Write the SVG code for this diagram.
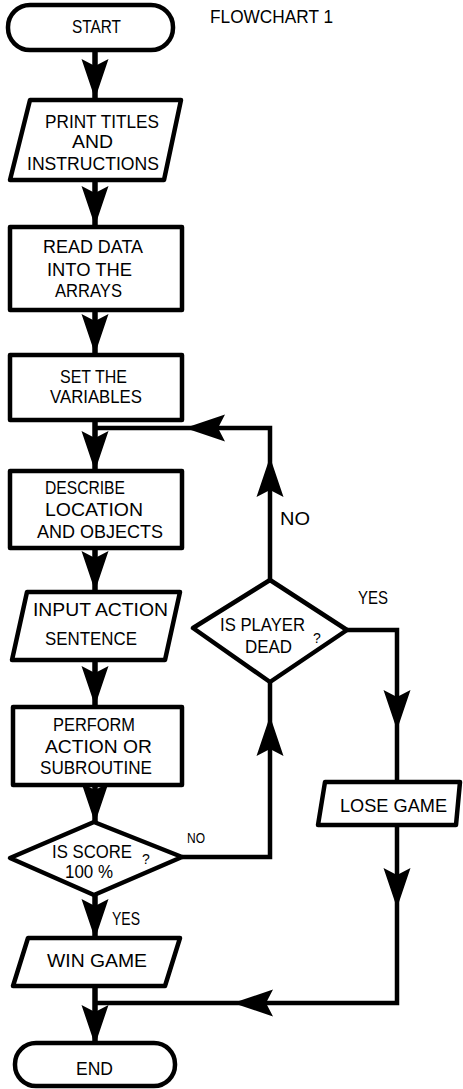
<svg xmlns="http://www.w3.org/2000/svg" xmlns:xlink="http://www.w3.org/1999/xlink" width="463" height="1089" viewBox="0 0 463 1089">
<style>
.box{fill:#fff;stroke:#000;stroke-width:4.5;stroke-linejoin:round}
.ln{fill:none;stroke:#000;stroke-width:4.5;stroke-linejoin:miter}
.main{fill:none;stroke:#000;stroke-width:5.5}
text{font-family:"Liberation Sans",Arial,sans-serif;font-size:18px;fill:#000}
.sm{font-size:14px}
</style>
<defs>
<path id="ah" d="M0,0 L-13.5,-40 L0,-33 L13.5,-40 Z" fill="#000"/>
</defs>
<g id="connectors">
<path class="main" d="M95,50 V100"/>
<use xlink:href="#ah" transform="translate(95,99)"/>
<path class="main" d="M95,180 V227"/>
<use xlink:href="#ah" transform="translate(95,226)"/>
<path class="main" d="M95,310 V355"/>
<use xlink:href="#ah" transform="translate(95,354)"/>
<path class="main" d="M95,420 V471"/>
<use xlink:href="#ah" transform="translate(95,471)"/>
<path class="main" d="M95,548 V592"/>
<use xlink:href="#ah" transform="translate(95,591)"/>
<path class="main" d="M95,660 V707"/>
<use xlink:href="#ah" transform="translate(95,706)"/>
<path class="main" d="M95,785 V822"/>
<use xlink:href="#ah" transform="translate(95,823)"/>
<path class="main" d="M95,895 V938"/>
<use xlink:href="#ah" transform="translate(95,939)"/>
<path class="main" d="M95,986 V1043"/>
<use xlink:href="#ah" transform="translate(95,1045)"/>
<path class="ln" d="M182,857 H270 V682"/>
<use xlink:href="#ah" transform="translate(270,716) rotate(180)"/>
<path class="ln" d="M270,580 V428 H95"/>
<use xlink:href="#ah" transform="translate(270,457) rotate(180)"/>
<use xlink:href="#ah" transform="translate(185,428) rotate(90)"/>
<path class="ln" d="M347,630 H397 V782"/>
<use xlink:href="#ah" transform="translate(397,730)"/>
<path class="ln" d="M397,825 V1003 H95"/>
<use xlink:href="#ah" transform="translate(397,908)"/>
<use xlink:href="#ah" transform="translate(233,1003) rotate(90)"/>
<text x="280" y="525" textLength="30" lengthAdjust="spacingAndGlyphs">NO</text>
<text x="358" y="604" textLength="30" lengthAdjust="spacingAndGlyphs">YES</text>
<text class="sm" x="187" y="843" textLength="18" lengthAdjust="spacingAndGlyphs">NO</text>
<text x="112" y="925" textLength="28" lengthAdjust="spacingAndGlyphs">YES</text>
</g>
<g id="title"><text x="210" y="23" textLength="123" lengthAdjust="spacingAndGlyphs">FLOWCHART 1</text></g>
<g id="start">
<rect class="box" x="8" y="5" width="165" height="45" rx="22"/>
<text x="72" y="33" textLength="49" lengthAdjust="spacingAndGlyphs">START</text>
</g>
<g id="print">
<polygon class="box" points="30,100 181,100 164,180 10,180"/>
<text x="45" y="128" textLength="114" lengthAdjust="spacingAndGlyphs">PRINT TITLES</text>
<text x="72" y="148" textLength="41" lengthAdjust="spacingAndGlyphs">AND</text>
<text x="27" y="170" textLength="132" lengthAdjust="spacingAndGlyphs">INSTRUCTIONS</text>
</g>
<g id="read">
<rect class="box" x="10" y="227" width="172" height="83"/>
<text x="43" y="253" textLength="100" lengthAdjust="spacingAndGlyphs">READ DATA</text>
<text x="47" y="276" textLength="85" lengthAdjust="spacingAndGlyphs">INTO THE</text>
<text x="55" y="297" textLength="67" lengthAdjust="spacingAndGlyphs">ARRAYS</text>
</g>
<g id="set">
<rect class="box" x="10" y="355" width="172" height="65"/>
<text x="60" y="383" textLength="67" lengthAdjust="spacingAndGlyphs">SET THE</text>
<text x="50" y="403" textLength="92" lengthAdjust="spacingAndGlyphs">VARIABLES</text>
</g>
<g id="describe">
<rect class="box" x="10" y="471" width="172" height="77"/>
<text x="45" y="494" textLength="80" lengthAdjust="spacingAndGlyphs">DESCRIBE</text>
<text x="45" y="516" textLength="98" lengthAdjust="spacingAndGlyphs">LOCATION</text>
<text x="37" y="538" textLength="126" lengthAdjust="spacingAndGlyphs">AND OBJECTS</text>
</g>
<g id="input">
<polygon class="box" points="27,592 180,592 165,660 12,660"/>
<text x="33" y="616" textLength="135" lengthAdjust="spacingAndGlyphs">INPUT ACTION</text>
<text x="45" y="645" textLength="92" lengthAdjust="spacingAndGlyphs">SENTENCE</text>
</g>
<g id="perform">
<rect class="box" x="13" y="707" width="169" height="78"/>
<text x="53" y="731" textLength="82" lengthAdjust="spacingAndGlyphs">PERFORM</text>
<text x="45" y="753" textLength="107" lengthAdjust="spacingAndGlyphs">ACTION OR</text>
<text x="40" y="774" textLength="112" lengthAdjust="spacingAndGlyphs">SUBROUTINE</text>
</g>
<g id="score">
<polygon class="box" points="94,822 182,857 94,895 10,858"/>
<text x="52" y="858" textLength="80" lengthAdjust="spacingAndGlyphs">IS SCORE</text>
<text class="sm" x="142" y="864">?</text>
<text x="65" y="878" textLength="48" lengthAdjust="spacingAndGlyphs">100 %</text>
</g>
<g id="dead">
<polygon class="box" points="270,580 347,630 270,682 193,628"/>
<text x="220" y="631" textLength="85" lengthAdjust="spacingAndGlyphs">IS PLAYER</text>
<text x="245" y="653" textLength="47" lengthAdjust="spacingAndGlyphs">DEAD</text>
<text class="sm" x="313" y="643">?</text>
</g>
<g id="win">
<polygon class="box" points="28,938 180,938 165,986 13,986"/>
<text x="47" y="967" textLength="100" lengthAdjust="spacingAndGlyphs">WIN GAME</text>
</g>
<g id="lose">
<polygon class="box" points="325,782 460,782 456,825 318,825"/>
<text x="340" y="812" textLength="107" lengthAdjust="spacingAndGlyphs">LOSE GAME</text>
</g>
<g id="end">
<rect class="box" x="15" y="1043" width="160" height="43" rx="21"/>
<text x="76" y="1075" textLength="37" lengthAdjust="spacingAndGlyphs">END</text>
</g>
</svg>
